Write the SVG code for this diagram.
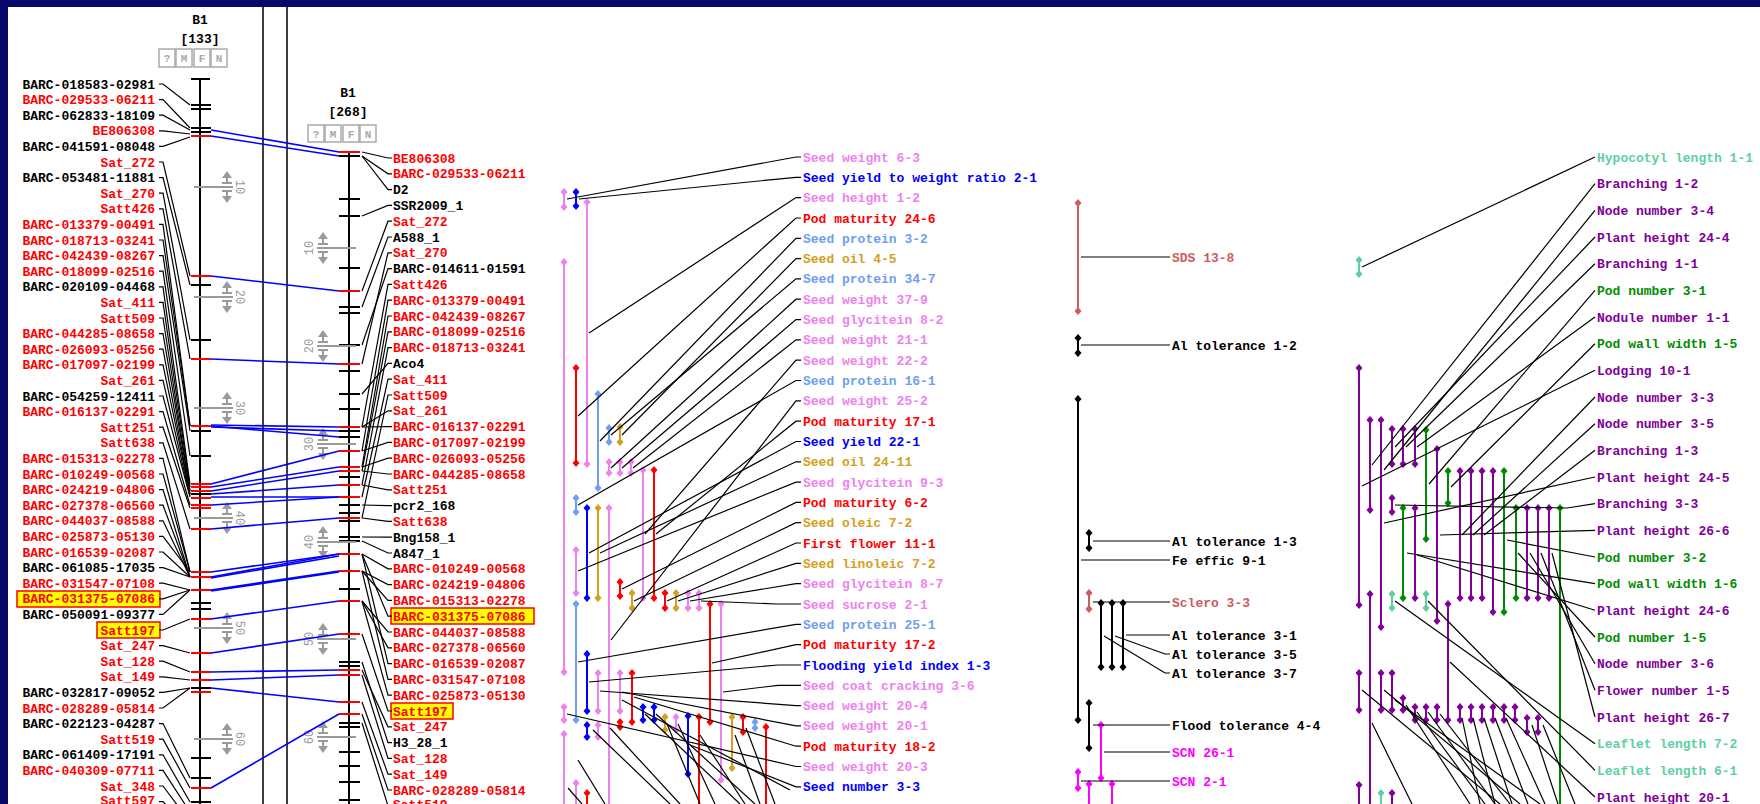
<svg xmlns="http://www.w3.org/2000/svg" width="1760" height="804" viewBox="0 0 1760 804">
<defs>
<style>
text{font-family:"Liberation Mono","DejaVu Sans Mono",monospace;font-size:13px;font-weight:bold}
.r{fill:#f00}.k{fill:#000}
.e{text-anchor:end}
.tpk{fill:#ee82ee}.tbl{fill:#00f}.trd{fill:#f00}.tlb{fill:#6f9ff0}.tgd{fill:#d4a020}.tir{fill:#cd5c5c}.tmg{fill:#f0f}.taq{fill:#5fcf9f}.tpu{fill:#800099}.tgn{fill:#008c00}
.c{stroke:#000;stroke-width:1.2;fill:none}
.bl{stroke:#00f;stroke-width:1.6;fill:none}
.tk{stroke:#000;stroke-width:2}
.tr{stroke:#f00;stroke-width:2}
.g{stroke:#9a9a9a;stroke-width:2;fill:none}
.gt{fill:#9a9a9a;font-size:12px;font-weight:normal;text-anchor:middle}
.q{fill:none;stroke:#aaa;stroke-width:1.5}
.qt{fill:#aaa;font-size:11px;text-anchor:middle}
.hl{fill:#ff0;stroke:#f00;stroke-width:1.5}
.bars path{stroke-width:2;fill:none}
.xpk{stroke:#ee82ee;marker-start:url(#mpk);marker-end:url(#mpk)}
.xbl{stroke:#00f;marker-start:url(#mbl);marker-end:url(#mbl)}
.xrd{stroke:#f00;marker-start:url(#mrd);marker-end:url(#mrd)}
.xlb{stroke:#6f9ff0;marker-start:url(#mlb);marker-end:url(#mlb)}
.xgd{stroke:#d4a020;marker-start:url(#mgd);marker-end:url(#mgd)}
.xbk{stroke:#000;marker-start:url(#mbk);marker-end:url(#mbk)}
.xir{stroke:#cd5c5c;marker-start:url(#mir);marker-end:url(#mir)}
.xmg{stroke:#f0f;marker-start:url(#mmg);marker-end:url(#mmg)}
.xaq{stroke:#5fcf9f;marker-start:url(#maq);marker-end:url(#maq)}
.xpu{stroke:#800099;marker-start:url(#mpu);marker-end:url(#mpu)}
.xgn{stroke:#008c00;marker-start:url(#mgn);marker-end:url(#mgn)}
</style>
<path id="dm" d="M0-4L3.5 0 0 4-3.5 0z"/>
<marker id="mpk" viewBox="-4 -4 8 8" markerWidth="8" markerHeight="8" markerUnits="userSpaceOnUse"><use href="#dm" fill="#ee82ee"/></marker>
<marker id="mbl" viewBox="-4 -4 8 8" markerWidth="8" markerHeight="8" markerUnits="userSpaceOnUse"><use href="#dm" fill="#00f"/></marker>
<marker id="mrd" viewBox="-4 -4 8 8" markerWidth="8" markerHeight="8" markerUnits="userSpaceOnUse"><use href="#dm" fill="#f00"/></marker>
<marker id="mlb" viewBox="-4 -4 8 8" markerWidth="8" markerHeight="8" markerUnits="userSpaceOnUse"><use href="#dm" fill="#6f9ff0"/></marker>
<marker id="mgd" viewBox="-4 -4 8 8" markerWidth="8" markerHeight="8" markerUnits="userSpaceOnUse"><use href="#dm" fill="#d4a020"/></marker>
<marker id="mbk" viewBox="-4 -4 8 8" markerWidth="8" markerHeight="8" markerUnits="userSpaceOnUse"><use href="#dm" fill="#000"/></marker>
<marker id="mir" viewBox="-4 -4 8 8" markerWidth="8" markerHeight="8" markerUnits="userSpaceOnUse"><use href="#dm" fill="#cd5c5c"/></marker>
<marker id="mmg" viewBox="-4 -4 8 8" markerWidth="8" markerHeight="8" markerUnits="userSpaceOnUse"><use href="#dm" fill="#f0f"/></marker>
<marker id="maq" viewBox="-4 -4 8 8" markerWidth="8" markerHeight="8" markerUnits="userSpaceOnUse"><use href="#dm" fill="#5fcf9f"/></marker>
<marker id="mpu" viewBox="-4 -4 8 8" markerWidth="8" markerHeight="8" markerUnits="userSpaceOnUse"><use href="#dm" fill="#800099"/></marker>
<marker id="mgn" viewBox="-4 -4 8 8" markerWidth="8" markerHeight="8" markerUnits="userSpaceOnUse"><use href="#dm" fill="#008c00"/></marker>
<g id="sc">
<path class="g" d="M-33 0H6M-5-4H5M-5 4H5M0-9V-4M0 4V9"/>
<path d="M0-16L-5-9H5zM0 16L-5 9H5z" fill="#9a9a9a"/>
</g>
</defs>
<rect width="1760" height="804" fill="#07096a"/>
<rect x="8" y="7" width="1752" height="797" fill="#fff"/>
<path d="M263 7V804M287 7V804" stroke="#000" stroke-width="1.5"/>

<g id="chr1">
<text class="k" x="200" y="24" text-anchor="middle">B1</text>
<text class="k" x="200" y="43" text-anchor="middle">[133]</text>
<rect class="q" x="159" y="49" width="16" height="18"/><rect class="q" x="176" y="49" width="16" height="18"/><rect class="q" x="194" y="49" width="16" height="18"/><rect class="q" x="211" y="49" width="16" height="18"/>
<text class="qt" x="167" y="62">?</text><text class="qt" x="184" y="62">M</text><text class="qt" x="202" y="62">F</text><text class="qt" x="219" y="62">N</text>
<path d="M200 79V804" stroke="#000" stroke-width="2"/>
<path class="tk" d="M191 79H210M191 105H211M191 109H211M191 128H211M191 132H211M191 340H211M191 431H211M191 456H211M191 603H211M191 609H211M191 688H211M191 758H211M191 778H211M191 802H211"/>
<path class="tk" stroke-width="3" d="M191 285H211M191 494H211"/>
<path class="tr" d="M191 276H211M191 359H211M191 484H211M191 487H211M191 491H211M191 505H211M191 508H211M191 529H211M191 572H211M191 619H211M191 653H211M191 672H211M191 680H211M191 692H211M191 788H211"/>
<path class="tr" stroke-width="4" d="M191 136H211M191 426H211M191 577H211M191 590H211M191 498H211"/>
<use href="#sc" x="227" y="187"/><use href="#sc" x="227" y="297"/><use href="#sc" x="227" y="408"/><use href="#sc" x="227" y="518"/><use href="#sc" x="227" y="628"/><use href="#sc" x="227" y="739"/>
<text class="gt" transform="translate(240 187) rotate(90)" dy="4">10</text>
<text class="gt" transform="translate(240 297) rotate(90)" dy="4">20</text>
<text class="gt" transform="translate(240 408) rotate(90)" dy="4">30</text>
<text class="gt" transform="translate(240 518) rotate(90)" dy="4">40</text>
<text class="gt" transform="translate(240 628) rotate(90)" dy="4">50</text>
<text class="gt" transform="translate(240 739) rotate(90)" dy="4">60</text>
<rect class="hl" x="17" y="591" width="143" height="16"/>
<rect class="hl" x="97" y="622" width="63" height="16"/>
<g class="e">
<text class="k" x="155" y="88.5">BARC-018583-02981</text>
<text class="r" x="155" y="104.1">BARC-029533-06211</text>
<text class="k" x="155" y="119.7">BARC-062833-18109</text>
<text class="r" x="155" y="135.3">BE806308</text>
<text class="k" x="155" y="150.9">BARC-041591-08048</text>
<text class="r" x="155" y="166.5">Sat_272</text>
<text class="k" x="155" y="182.1">BARC-053481-11881</text>
<text class="r" x="155" y="197.7">Sat_270</text>
<text class="r" x="155" y="213.3">Satt426</text>
<text class="r" x="155" y="228.9">BARC-013379-00491</text>
<text class="r" x="155" y="244.5">BARC-018713-03241</text>
<text class="r" x="155" y="260.1">BARC-042439-08267</text>
<text class="r" x="155" y="275.7">BARC-018099-02516</text>
<text class="k" x="155" y="291.3">BARC-020109-04468</text>
<text class="r" x="155" y="306.9">Sat_411</text>
<text class="r" x="155" y="322.5">Satt509</text>
<text class="r" x="155" y="338.1">BARC-044285-08658</text>
<text class="r" x="155" y="353.7">BARC-026093-05256</text>
<text class="r" x="155" y="369.3">BARC-017097-02199</text>
<text class="r" x="155" y="384.9">Sat_261</text>
<text class="k" x="155" y="400.5">BARC-054259-12411</text>
<text class="r" x="155" y="416.1">BARC-016137-02291</text>
<text class="r" x="155" y="431.7">Satt251</text>
<text class="r" x="155" y="447.3">Satt638</text>
<text class="r" x="155" y="462.9">BARC-015313-02278</text>
<text class="r" x="155" y="478.5">BARC-010249-00568</text>
<text class="r" x="155" y="494.1">BARC-024219-04806</text>
<text class="r" x="155" y="509.7">BARC-027378-06560</text>
<text class="r" x="155" y="525.3">BARC-044037-08588</text>
<text class="r" x="155" y="540.9">BARC-025873-05130</text>
<text class="r" x="155" y="556.5">BARC-016539-02087</text>
<text class="k" x="155" y="572.1">BARC-061085-17035</text>
<text class="r" x="155" y="587.7">BARC-031547-07108</text>
<text class="r" x="155" y="603.3">BARC-031375-07086</text>
<text class="k" x="155" y="618.9">BARC-050091-09377</text>
<text class="r" x="155" y="634.5">Satt197</text>
<text class="r" x="155" y="650.1">Sat_247</text>
<text class="r" x="155" y="665.7">Sat_128</text>
<text class="r" x="155" y="681.3">Sat_149</text>
<text class="k" x="155" y="696.9">BARC-032817-09052</text>
<text class="r" x="155" y="712.5">BARC-028289-05814</text>
<text class="k" x="155" y="728.1">BARC-022123-04287</text>
<text class="r" x="155" y="743.7">Satt519</text>
<text class="k" x="155" y="759.3">BARC-061409-17191</text>
<text class="r" x="155" y="774.9">BARC-040309-07711</text>
<text class="r" x="155" y="790.5">Sat_348</text>
<text class="r" x="155" y="805">Satt597</text>
</g>
</g>

<g id="chr2">
<text class="k" x="348" y="97" text-anchor="middle">B1</text>
<text class="k" x="348" y="116" text-anchor="middle">[268]</text>
<rect class="q" x="308" y="125" width="16" height="17"/><rect class="q" x="325" y="125" width="16" height="17"/><rect class="q" x="343" y="125" width="16" height="17"/><rect class="q" x="360" y="125" width="16" height="17"/>
<text class="qt" x="316" y="138">?</text><text class="qt" x="333" y="138">M</text><text class="qt" x="351" y="138">F</text><text class="qt" x="368" y="138">N</text>
<path d="M349 152V804" stroke="#000" stroke-width="2"/>
<path class="tk" d="M339 156H360M339 216H360M339 307H360M339 313H360M339 345H360M339 371H360M339 394H360M339 409H360M339 431H360M339 437H360M339 477H360M339 505H360M339 513H360M339 521H360M339 541H360M339 589H360M339 662H360M339 666H360M339 727H360M339 752H360M339 766H360M339 800H360"/>
<path class="tk" stroke-width="3.5" d="M339 199H360M339 268H360M339 537H360M339 723H360M339 782H360"/>
<path class="tr" d="M339 152H360M339 291H360M339 364H360M339 427H360M339 451H360M339 467H360M339 471H360M339 485H360M339 497H360M339 518H360M339 571H360M339 601H360M339 634H360M339 670H360M339 675H360M339 702H360M339 714H360"/>
<path class="tr" stroke-width="3.5" d="M339 554H360"/>
<use href="#sc" transform="translate(323 248) scale(-1 1)"/><use href="#sc" transform="translate(323 346) scale(-1 1)"/><use href="#sc" transform="translate(323 444) scale(-1 1)"/><use href="#sc" transform="translate(323 542) scale(-1 1)"/><use href="#sc" transform="translate(323 639) scale(-1 1)"/><use href="#sc" transform="translate(323 737) scale(-1 1)"/>
<text class="gt" transform="translate(309 248) rotate(-90)" dy="4">10</text>
<text class="gt" transform="translate(309 346) rotate(-90)" dy="4">20</text>
<text class="gt" transform="translate(309 444) rotate(-90)" dy="4">30</text>
<text class="gt" transform="translate(309 542) rotate(-90)" dy="4">40</text>
<text class="gt" transform="translate(309 639) rotate(-90)" dy="4">50</text>
<text class="gt" transform="translate(309 737) rotate(-90)" dy="4">60</text>
<rect class="hl" x="391" y="608" width="143" height="16"/>
<rect class="hl" x="391" y="703" width="62" height="16"/>
<text class="r" x="393" y="162.5">BE806308</text>
<text class="r" x="393" y="178.3">BARC-029533-06211</text>
<text class="k" x="393" y="194.1">D2</text>
<text class="k" x="393" y="209.9">SSR2009_1</text>
<text class="r" x="393" y="225.7">Sat_272</text>
<text class="k" x="393" y="241.5">A588_1</text>
<text class="r" x="393" y="257.3">Sat_270</text>
<text class="k" x="393" y="273.1">BARC-014611-01591</text>
<text class="r" x="393" y="288.9">Satt426</text>
<text class="r" x="393" y="304.7">BARC-013379-00491</text>
<text class="r" x="393" y="320.5">BARC-042439-08267</text>
<text class="r" x="393" y="336.3">BARC-018099-02516</text>
<text class="r" x="393" y="352.1">BARC-018713-03241</text>
<text class="k" x="393" y="367.9">Aco4</text>
<text class="r" x="393" y="383.7">Sat_411</text>
<text class="r" x="393" y="399.5">Satt509</text>
<text class="r" x="393" y="415.3">Sat_261</text>
<text class="r" x="393" y="431.1">BARC-016137-02291</text>
<text class="r" x="393" y="446.9">BARC-017097-02199</text>
<text class="r" x="393" y="462.7">BARC-026093-05256</text>
<text class="r" x="393" y="478.5">BARC-044285-08658</text>
<text class="r" x="393" y="494.3">Satt251</text>
<text class="k" x="393" y="510.1">pcr2_168</text>
<text class="r" x="393" y="525.9">Satt638</text>
<text class="k" x="393" y="541.7">Bng158_1</text>
<text class="k" x="393" y="557.5">A847_1</text>
<text class="r" x="393" y="573.3">BARC-010249-00568</text>
<text class="r" x="393" y="589.1">BARC-024219-04806</text>
<text class="r" x="393" y="604.9">BARC-015313-02278</text>
<text class="r" x="393" y="620.7">BARC-031375-07086</text>
<text class="r" x="393" y="636.5">BARC-044037-08588</text>
<text class="r" x="393" y="652.3">BARC-027378-06560</text>
<text class="r" x="393" y="668.1">BARC-016539-02087</text>
<text class="r" x="393" y="683.9">BARC-031547-07108</text>
<text class="r" x="393" y="699.7">BARC-025873-05130</text>
<text class="r" x="393" y="715.5">Satt197</text>
<text class="r" x="393" y="731.3">Sat_247</text>
<text class="k" x="393" y="747.1">H3_28_1</text>
<text class="r" x="393" y="762.9">Sat_128</text>
<text class="r" x="393" y="778.7">Sat_149</text>
<text class="r" x="393" y="794.5">BARC-028289-05814</text>
<text class="r" x="393" y="809">Satt519</text>
</g>

<g id="qtl-a">
<g class="bars">
<path class="xpk" d="M564 192V207"/><path class="xbl" d="M576 192V206"/><path class="xpk" d="M587 202V464"/><path class="xpk" d="M564 262V672"/>
<path class="xrd" d="M576 368V463"/><path class="xlb" d="M598 394V488"/><path class="xlb" d="M609 428V442"/><path class="xgd" d="M620 427V442"/>
<path class="xpk" d="M609 462V473"/><path class="xpk" d="M620 462V473"/><path class="xpk" d="M631 462V473"/><path class="xrd" d="M654 470V598"/><path class="xpk" d="M643 470V598"/>
<path class="xlb" d="M576 498V512"/><path class="xbl" d="M587 508V598"/><path class="xgd" d="M598 508V598"/><path class="xpk" d="M609 508V812"/><path class="xpk" d="M576 550V593"/>
<path class="xrd" d="M620 582V596"/><path class="xgd" d="M632 593V608"/><path class="xrd" d="M665 593V608"/><path class="xgd" d="M676 593V608"/><path class="xpk" d="M688 593V608"/><path class="xpk" d="M699 593V608"/>
<path class="xrd" d="M710 604V722"/><path class="xpk" d="M721 604V780"/><path class="xlb" d="M576 604V720"/><path class="xpk" d="M564 707V720"/>
<path class="xbl" d="M587 654V711"/><path class="xpk" d="M598 673V711"/><path class="xpk" d="M620 673V711"/><path class="xrd" d="M632 673V722"/>
<path class="xbl" d="M643 707V720"/><path class="xbl" d="M654 707V720"/><path class="xrd" d="M620 722V727"/><path class="xgd" d="M665 717V730"/><path class="xpk" d="M676 717V730"/>
<path class="xbl" d="M688 716V774"/><path class="xrd" d="M699 717V812"/><path class="xgd" d="M732 717V768"/><path class="xrd" d="M743 717V732"/><path class="xlb" d="M755 722V728"/><path class="xrd" d="M766 727V812"/>
<path class="xbl" d="M587 725V737"/><path class="xpk" d="M598 725V737"/><path class="xpk" d="M564 734V812"/><path class="xpk" d="M576 783V812"/><path class="xrd" d="M587 793V812"/>
</g>
<text class="tpk" x="803" y="161.5">Seed weight 6-3</text>
<text class="tbl" x="803" y="181.8">Seed yield to weight ratio 2-1</text>
<text class="tpk" x="803" y="202.1">Seed height 1-2</text>
<text class="trd" x="803" y="222.5">Pod maturity 24-6</text>
<text class="tlb" x="803" y="242.8">Seed protein 3-2</text>
<text class="tgd" x="803" y="263.1">Seed oil 4-5</text>
<text class="tlb" x="803" y="283.4">Seed protein 34-7</text>
<text class="tpk" x="803" y="303.7">Seed weight 37-9</text>
<text class="tpk" x="803" y="324.1">Seed glycitein 8-2</text>
<text class="tpk" x="803" y="344.4">Seed weight 21-1</text>
<text class="tpk" x="803" y="364.7">Seed weight 22-2</text>
<text class="tlb" x="803" y="385">Seed protein 16-1</text>
<text class="tpk" x="803" y="405.3">Seed weight 25-2</text>
<text class="trd" x="803" y="425.7">Pod maturity 17-1</text>
<text class="tbl" x="803" y="446">Seed yield 22-1</text>
<text class="tgd" x="803" y="466.3">Seed oil 24-11</text>
<text class="tpk" x="803" y="486.6">Seed glycitein 9-3</text>
<text class="trd" x="803" y="506.9">Pod maturity 6-2</text>
<text class="tgd" x="803" y="527.2">Seed oleic 7-2</text>
<text class="trd" x="803" y="547.5">First flower 11-1</text>
<text class="tgd" x="803" y="567.9">Seed linoleic 7-2</text>
<text class="tpk" x="803" y="588.2">Seed glycitein 8-7</text>
<text class="tpk" x="803" y="608.5">Seed sucrose 2-1</text>
<text class="tlb" x="803" y="628.8">Seed protein 25-1</text>
<text class="trd" x="803" y="649.1">Pod maturity 17-2</text>
<text class="tbl" x="803" y="669.5">Flooding yield index 1-3</text>
<text class="tpk" x="803" y="689.8">Seed coat cracking 3-6</text>
<text class="tpk" x="803" y="710.1">Seed weight 20-4</text>
<text class="tpk" x="803" y="730.4">Seed weight 20-1</text>
<text class="trd" x="803" y="750.7">Pod maturity 18-2</text>
<text class="tpk" x="803" y="771">Seed weight 20-3</text>
<text class="tbl" x="803" y="791.3">Seed number 3-3</text>
</g>

<g id="qtl-b">
<g class="bars">
<path class="xir" d="M1078 203V311"/><path class="xbk" d="M1078 338V353"/><path class="xbk" d="M1078 399V720"/><path class="xbk" d="M1089 533V548"/>
<path class="xir" d="M1089 593V609"/><path class="xbk" d="M1101 603V667"/><path class="xbk" d="M1112 603V667"/><path class="xbk" d="M1123 603V667"/>
<path class="xbk" d="M1089 703V748"/><path class="xmg" d="M1101 725V778"/><path class="xmg" d="M1078 772V788"/><path class="xmg" d="M1089 784V812"/><path class="xmg" d="M1112 784V812"/>
</g>
<text class="tir" x="1172" y="261.5">SDS 13-8</text>
<text class="k" x="1172" y="349.5">Al tolerance 1-2</text>
<text class="k" x="1172" y="545.5">Al tolerance 1-3</text>
<text class="k" x="1172" y="564.5">Fe effic 9-1</text>
<text class="tir" x="1172" y="606.5">Sclero 3-3</text>
<text class="k" x="1172" y="639.5">Al tolerance 3-1</text>
<text class="k" x="1172" y="658.5">Al tolerance 3-5</text>
<text class="k" x="1172" y="677.5">Al tolerance 3-7</text>
<text class="k" x="1172" y="729.5">Flood tolerance 4-4</text>
<text class="tmg" x="1172" y="756.5">SCN 26-1</text>
<text class="tmg" x="1172" y="785.5">SCN 2-1</text>
</g>

<g id="qtl-c">
<g class="bars">
<path class="xaq" d="M1359 260V274"/><path class="xpu" d="M1359 368V605"/><path class="xpu" d="M1370 420V510"/><path class="xpu" d="M1381 420V627"/>
<path class="xpu" d="M1392 429V464"/><path class="xpu" d="M1403 429V464"/><path class="xpu" d="M1415 429V464"/><path class="xgn" d="M1426 430V539"/><path class="xpu" d="M1437 449V621"/>
<path class="xgn" d="M1448 471V503"/><path class="xpu" d="M1460 471V598"/><path class="xpu" d="M1471 471V598"/><path class="xpu" d="M1482 471V598"/><path class="xpu" d="M1493 471V612"/><path class="xgn" d="M1504 471V612"/>
<path class="xpu" d="M1392 498V512"/><path class="xgn" d="M1403 508V598"/><path class="xpu" d="M1415 508V598"/><path class="xgn" d="M1516 508V598"/><path class="xpu" d="M1527 508V598"/><path class="xpu" d="M1538 508V598"/><path class="xpu" d="M1549 508V598"/><path class="xgn" d="M1560 508V812"/>
<path class="xaq" d="M1392 594V608"/><path class="xaq" d="M1426 594V608"/><path class="xpu" d="M1370 594V812"/><path class="xpu" d="M1448 604V720"/>
<path class="xpu" d="M1359 673V710"/><path class="xpu" d="M1381 673V710"/><path class="xpu" d="M1392 673V710"/><path class="xpu" d="M1403 698V710"/>
<path class="xpu" d="M1415 707V720"/><path class="xpu" d="M1426 707V720"/><path class="xpu" d="M1437 707V720"/><path class="xpu" d="M1460 707V720"/><path class="xpu" d="M1471 707V720"/><path class="xpu" d="M1482 707V720"/><path class="xpu" d="M1493 707V720"/><path class="xpu" d="M1504 707V720"/><path class="xpu" d="M1515 707V720"/>
<path class="xpu" d="M1527 718V732"/><path class="xpu" d="M1538 718V732"/><path class="xpu" d="M1359 785V812"/><path class="xaq" d="M1381 793V812"/><path class="xpu" d="M1392 793V812"/>
</g>
<text class="taq" x="1597" y="161.5">Hypocotyl length 1-1</text>
<text class="tpu" x="1597" y="188.2">Branching 1-2</text>
<text class="tpu" x="1597" y="214.8">Node number 3-4</text>
<text class="tpu" x="1597" y="241.5">Plant height 24-4</text>
<text class="tpu" x="1597" y="268.2">Branching 1-1</text>
<text class="tgn" x="1597" y="294.8">Pod number 3-1</text>
<text class="tpu" x="1597" y="321.5">Nodule number 1-1</text>
<text class="tgn" x="1597" y="348.2">Pod wall width 1-5</text>
<text class="tpu" x="1597" y="374.8">Lodging 10-1</text>
<text class="tpu" x="1597" y="401.5">Node number 3-3</text>
<text class="tpu" x="1597" y="428.2">Node number 3-5</text>
<text class="tpu" x="1597" y="454.8">Branching 1-3</text>
<text class="tpu" x="1597" y="481.5">Plant height 24-5</text>
<text class="tpu" x="1597" y="508.2">Branching 3-3</text>
<text class="tpu" x="1597" y="534.8">Plant height 26-6</text>
<text class="tgn" x="1597" y="561.5">Pod number 3-2</text>
<text class="tgn" x="1597" y="588.2">Pod wall width 1-6</text>
<text class="tpu" x="1597" y="614.8">Plant height 24-6</text>
<text class="tgn" x="1597" y="641.5">Pod number 1-5</text>
<text class="tpu" x="1597" y="668.2">Node number 3-6</text>
<text class="tpu" x="1597" y="694.8">Flower number 1-5</text>
<text class="tpu" x="1597" y="721.5">Plant height 26-7</text>
<text class="taq" x="1597" y="748.2">Leaflet length 7-2</text>
<text class="taq" x="1597" y="774.8">Leaflet length 6-1</text>
<text class="tpu" x="1597" y="801.5">Plant height 20-1</text>
</g>

<g id="connectors">
<g class="bl">
<path d="M211 130L339 152"/><path d="M211 136L339 156"/><path d="M211 276L339 291"/><path d="M211 359L339 364"/>
<path d="M211 425L339 427"/><path d="M211 427L339 431"/><path d="M211 426L339 437"/>
<path d="M211 484L339 451"/><path d="M211 487L339 467"/><path d="M211 491L339 471"/><path d="M211 494L339 485"/><path d="M211 497L339 497"/><path d="M211 505L339 497"/><path d="M211 529L339 518"/>
<path d="M211 572L339 554"/><path d="M211 577L339 554"/><path d="M211 578L339 556"/><path d="M211 590L339 571"/><path d="M211 591L339 572"/>
<path d="M211 619L339 601"/><path d="M211 653L339 634"/><path d="M211 672L339 670"/><path d="M211 680L339 675"/><path d="M211 688L339 702"/><path d="M211 788L339 714"/>
</g>
<g class="c">
<path d="M159 84H163L190 105"/><path d="M159 99.6H163L190 128"/><path d="M159 115.2H163L190 130"/><path d="M159 130.8H163L190 134"/><path d="M159 146.4H163L190 137"/>
<path d="M159 162H163L190 276"/><path d="M159 177.6H163L190 285"/><path d="M159 193.2H163L190 340"/><path d="M159 208.8H163L190 359"/><path d="M159 224.4H163L190 426"/>
<path d="M159 240H163L190 426"/><path d="M159 255.6H163L190 431"/><path d="M159 271.2H163L190 456"/><path d="M159 286.8H163L190 484"/><path d="M159 302.4H163L190 487"/>
<path d="M159 318H163L190 491"/><path d="M159 333.6H163L190 491"/><path d="M159 349.2H163L190 494"/><path d="M159 364.8H163L190 494"/><path d="M159 380.4H163L190 496"/>
<path d="M159 396H163L190 497"/><path d="M159 411.6H163L190 505"/><path d="M159 427.2H163L190 508"/><path d="M159 442.8H163L190 529"/><path d="M159 458.4H163L190 572"/>
<path d="M159 474H163L190 572"/><path d="M159 489.6H163L190 577"/><path d="M159 505.2H163L190 577"/><path d="M159 520.8H163L190 577"/><path d="M159 536.4H163L190 572"/>
<path d="M159 552H163L190 577"/><path d="M159 567.6H163L190 577"/><path d="M159 583.2H163L190 590"/><path d="M159 598.8H163L190 590"/><path d="M159 614.4H163L190 590"/>
<path d="M159 630H163L190 619"/><path d="M159 645.6H163L190 653"/><path d="M159 661.2H163L190 672"/><path d="M159 676.8H163L190 680"/><path d="M159 692.4H163L190 688"/>
<path d="M159 708H163L190 688"/><path d="M159 723.6H163L190 778"/><path d="M159 739.2H163L190 788"/><path d="M159 754.8H163L190 802"/><path d="M159 770.4H163L190 812"/>
<path d="M159 786H163L190 822"/><path d="M159 801.6H163L190 832"/>

<path d="M362 152L388 158H392"/><path d="M362 156L388 173.8H392"/><path d="M362 156L388 189.6H392"/><path d="M362 216L388 205.4H392"/><path d="M362 291L388 221.2H392"/>
<path d="M362 307L388 237H392"/><path d="M362 364L388 252.8H392"/><path d="M362 345L388 268.6H392"/><path d="M362 427L388 284.4H392"/><path d="M362 451L388 300.2H392"/>
<path d="M362 467L388 316H392"/><path d="M362 471L388 331.8H392"/><path d="M362 485L388 347.6H392"/><path d="M362 394L388 363.4H392"/><path d="M362 497L388 379.2H392"/>
<path d="M362 518L388 395H392"/><path d="M362 427L388 410.8H392"/><path d="M362 427L388 426.6H392"/><path d="M362 451L388 442.4H392"/><path d="M362 467L388 458.2H392"/>
<path d="M362 471L388 474H392"/><path d="M362 485L388 489.8H392"/><path d="M362 505L388 505.6H392"/><path d="M362 518L388 521.4H392"/><path d="M362 537L388 537.2H392"/>
<path d="M362 541L388 553H392"/><path d="M362 554L388 568.8H392"/><path d="M362 571L388 584.6H392"/><path d="M362 571L388 600.4H392"/><path d="M362 554L388 616.2H392"/>
<path d="M362 601L388 632H392"/><path d="M362 601L388 647.8H392"/><path d="M362 554L388 663.6H392"/><path d="M362 571L388 679.4H392"/><path d="M362 601L388 695.2H392"/>
<path d="M362 634L388 711H392"/><path d="M362 670L388 726.8H392"/><path d="M362 662L388 742.6H392"/><path d="M362 675L388 758.4H392"/><path d="M362 702L388 774.2H392"/>
<path d="M362 714L388 790H392"/><path d="M362 723L388 805.8H392"/>

<path d="M801 157H796L567 199"/><path d="M801 177.3H796L579 199"/><path d="M801 197.6H796L589 333"/><path d="M801 218H796L578 416"/><path d="M801 238.3H796L600 441"/>
<path d="M801 258.6H796L622 435"/><path d="M801 278.9H796L611 435"/><path d="M801 299.2H796L611 468"/><path d="M801 319.6H796L622 468"/><path d="M801 339.9H796L633 468"/>
<path d="M801 360.2H796L645 534"/><path d="M801 380.5H796L578 505"/><path d="M801 400.8H796L611 640"/><path d="M801 421.2H796L656 534"/><path d="M801 441.5H796L589 553"/>
<path d="M801 461.8H796L600 553"/><path d="M801 482.1H796L578 571"/><path d="M801 502.4H796L622 589"/><path d="M801 522.7H796L634 601"/><path d="M801 543H796L667 601"/>
<path d="M801 563.4H796L678 601"/><path d="M801 583.7H796L690 601"/><path d="M801 604H777L701 601"/><path d="M801 624.3H796L578 662"/><path d="M801 644.6H796L712 663"/>
<path d="M801 665H778L589 682"/><path d="M801 685.3H778L723 692"/><path d="M801 705.6H796L600 691"/><path d="M801 725.9H796L622 692"/><path d="M801 746.2H796L634 697"/>
<path d="M801 766.5H796L567 714"/><path d="M801 786.8H796L690 745"/>
<path d="M593 730L670 804"/><path d="M610 728L680 804"/><path d="M578 760L605 804"/><path d="M568 788L582 804"/><path d="M645 714L740 804"/><path d="M656 714L755 804"/>
<path d="M667 724L700 804"/><path d="M678 724L715 804"/><path d="M735 735L760 804"/><path d="M746 728L775 804"/><path d="M700 735L745 804"/><path d="M622 700L790 790"/>

<path d="M1081 257H1170"/><path d="M1081 345H1170"/><path d="M1093 541H1170"/><path d="M1081 560H1170"/><path d="M1093 602H1170"/>
<path d="M1126 635H1170"/><path d="M1115 636L1165 654H1170"/><path d="M1104 636L1165 673H1170"/><path d="M1093 725H1170"/><path d="M1104 752H1170"/><path d="M1081 781H1170"/>

<path d="M1595 157L1362 267"/><path d="M1595 183.7L1372 465"/><path d="M1595 210.3L1384 470"/><path d="M1595 237L1395 447"/><path d="M1595 263.7L1406 447"/>
<path d="M1595 290.3L1429 484"/><path d="M1595 317L1417 447"/><path d="M1595 343.7L1451 487"/><path d="M1595 370.3L1362 486"/><path d="M1595 397L1462 535"/>
<path d="M1595 423.7L1473 535"/><path d="M1595 450.3L1484 535"/><path d="M1595 477L1384 523"/><path d="M1595 503.7L1567 508L1395 505"/><path d="M1595 530.3L1440 535"/>
<path d="M1595 557L1507 540"/><path d="M1595 583.7L1407 553"/><path d="M1595 610.3L1417 555"/><path d="M1595 637L1518 553"/><path d="M1595 663.7L1530 553"/>
<path d="M1595 690.3L1541 553"/><path d="M1595 717L1552 553"/><path d="M1595 743.7L1395 601"/><path d="M1595 770.3L1428 601"/><path d="M1595 797L1450 662"/>
<path d="M1362 690L1500 804"/><path d="M1384 690L1520 804"/><path d="M1395 700L1540 804"/><path d="M1406 705L1470 804"/><path d="M1417 712L1485 804"/><path d="M1428 712L1495 804"/>
<path d="M1440 714L1510 804"/><path d="M1462 718L1480 804"/><path d="M1473 718L1495 804"/><path d="M1484 718L1512 804"/><path d="M1495 718L1528 804"/><path d="M1506 718L1545 804"/>
<path d="M1372 723L1412 804"/><path d="M1532 725L1558 804"/><path d="M1543 725L1575 804"/>
</g>
</g>
</svg>
